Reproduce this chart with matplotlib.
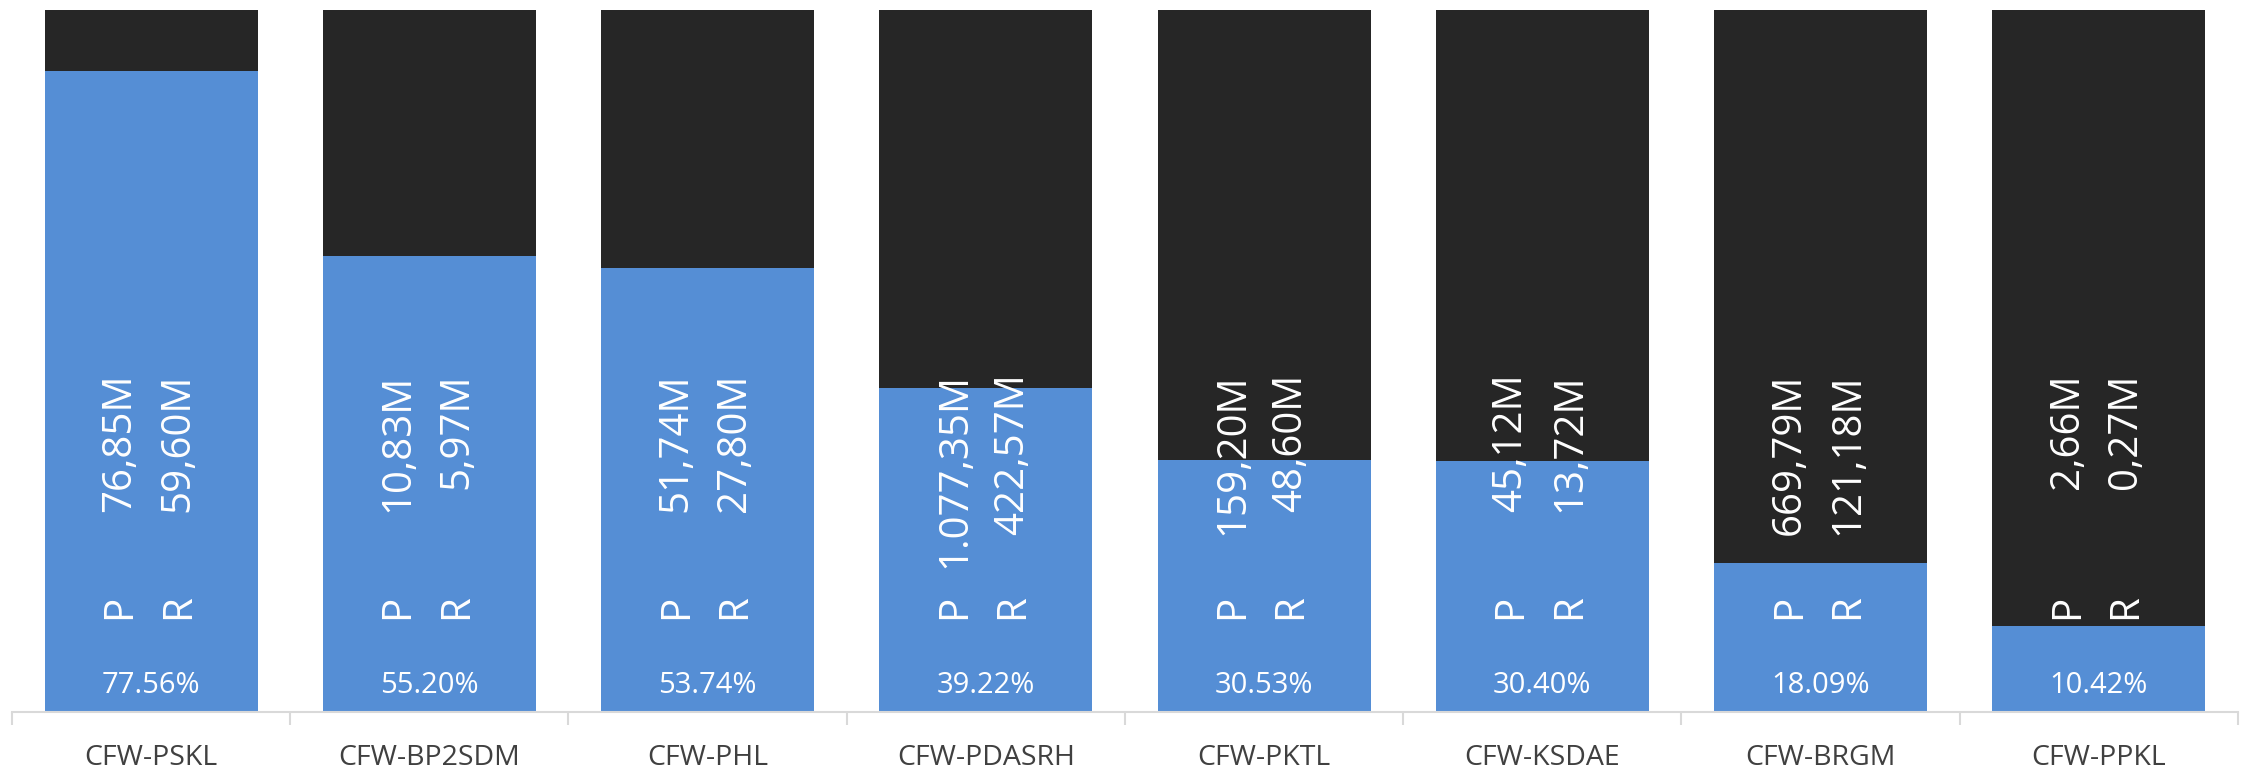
import matplotlib.pyplot as plt
import numpy as np

# Data
categories = ['CFW-PSKL', 'CFW-BP2SDM', 'CFW-PHL', 'CFW-PDASRH',
              'CFW-PKTL', 'CFW-KSDAE', 'CFW-BRGM', 'CFW-PPKL']
realization_pct = [77.56, 55.20, 53.74, 39.22, 30.53, 30.40, 18.09, 10.42]
planned = [76.85, 10.83, 51.74, 1077.35, 159.20, 45.12, 669.79, 2.66]
realized = [59.60, 5.97, 27.80, 422.57, 48.60, 13.72, 121.18, 0.27]

blue = '#558ed5'
dark = '#262626'


def fmt_m(v):
    # 1.077,35M style (dot for thousands, comma for decimals)
    s = f'{v:,.2f}'
    s = s.replace(',', '#').replace('.', ',').replace('#', '.')
    return s + 'M'


plt.rcParams['font.family'] = ['Open Sans', 'DejaVu Sans']

fig = plt.figure(figsize=(22.44, 7.69), dpi=100)
ax = fig.add_axes([0.00535, 0.0741, 0.99195, 0.9129])

x = np.arange(len(categories))
pct = np.array(realization_pct) / 100
rest = 1 - pct
width = 0.766

ax.bar(x, pct, width, color=blue, zorder=2)
ax.bar(x, rest, width, bottom=pct, color=dark, zorder=2)

for i in range(len(categories)):
    ax.text(x[i], 0.032, f'{realization_pct[i]:.2f}%', ha='center', va='center',
            color='white', fontsize=21)
    for dx, letter, val in [(-0.112, 'P', planned[i]), (0.098, 'R', realized[i])]:
        ax.text(x[i] + dx, 0.1126, letter, rotation=90, ha='center', va='bottom',
                color='white', fontsize=29)
        ax.text(x[i] + dx, 0.41, fmt_m(val), rotation=90, ha='center', va='top',
                color='white', fontsize=29)

ax.set_xlim(-0.5, len(categories) - 0.5)
ax.set_ylim(0, 0.85)

for s in ['top', 'right', 'left']:
    ax.spines[s].set_visible(False)
ax.spines['bottom'].set_color('#d9d9d9')
ax.spines['bottom'].set_linewidth(1.5)

ax.set_yticks([])
ax.set_xticks(np.arange(-0.5, len(categories)), minor=False)
ax.set_xticklabels([])
ax.tick_params(axis='x', which='major', length=9, width=1.5, color='#d9d9d9')
ax.set_xticks(x, minor=True)
ax.set_xticklabels(categories, minor=True, fontsize=20.5, color='#404040')
ax.tick_params(axis='x', which='minor', length=0, pad=23)

fig.savefig('out.png', dpi=100)
